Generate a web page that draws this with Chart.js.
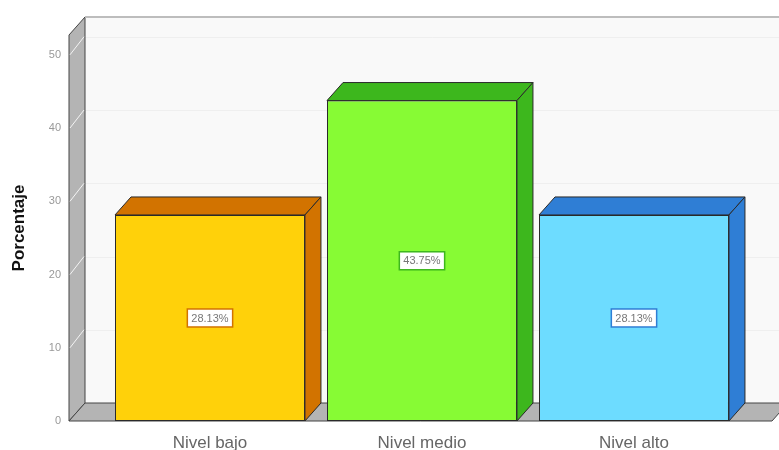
<!DOCTYPE html>
<html>
<head>
<meta charset="utf-8">
<script src="https://cdn.jsdelivr.net/npm/chart.js@4"></script>
<style>
  html, body { margin: 0; padding: 0; background: #fff; }
  #wrap { width: 779px; height: 450px; position: relative; }
</style>
</head>
<body>
<div id="wrap"><canvas id="nivelChart"></canvas></div>
<script>
// Chart data
const categories = ['Nivel bajo', 'Nivel medio', 'Nivel alto'];
const percentages = [28.13, 43.75, 28.13];
const valueLabels = ['28.13%', '43.75%', '28.13%'];
const yTicks = [0, 10, 20, 30, 40, 50];

// Colours: front face / top and side faces
const frontColors = ['#FFD10A', '#87FB34', '#6DDCFF'];
const sideColors = ['#D27300', '#3DB71D', '#2F7ED5'];

// 3D depth offset
const DX = 16, DY = -18;

function poly(ctx, pts, fill, stroke, lw) {
    ctx.beginPath();
    ctx.moveTo(pts[0][0], pts[0][1]);
    for (let i = 1; i < pts.length; i++) ctx.lineTo(pts[i][0], pts[i][1]);
    ctx.closePath();
    if (fill) { ctx.fillStyle = fill; ctx.fill(); }
    if (stroke) { ctx.strokeStyle = stroke; ctx.lineWidth = lw || 1; ctx.stroke(); }
}

// Walls, floor and gridlines behind the bars
const box3d = {
    id: 'box3d',
    beforeDatasetsDraw(chart) {
        const ctx = chart.ctx;
        const a = chart.chartArea;
        const ys = chart.scales.y;
        const L = a.left, R = a.right, T = a.top, B = a.bottom;
        ctx.save();
        // back wall
        poly(ctx, [[L + DX, T + DY], [R + DX, T + DY], [R + DX, B + DY], [L + DX, B + DY]], '#f9f9f9');
        // gridlines on back wall
        yTicks.forEach(v => {
            if (v === 0) return;
            const y = Math.round(ys.getPixelForValue(v) + DY) + 0.5;
            ctx.beginPath();
            ctx.moveTo(L + DX, y);
            ctx.lineTo(R + DX, y);
            ctx.strokeStyle = '#efefef';
            ctx.lineWidth = 1;
            ctx.stroke();
        });
        // left wall
        poly(ctx, [[L, T], [L + DX, T + DY], [L + DX, B + DY], [L, B]], '#b4b4b4', '#444', 1);
        yTicks.forEach(v => {
            if (v === 0) return;
            const y = ys.getPixelForValue(v);
            ctx.beginPath();
            ctx.moveTo(L + 1, y);
            ctx.lineTo(L + DX - 1, y + DY);
            ctx.strokeStyle = '#f4f4f4';
            ctx.lineWidth = 1;
            ctx.stroke();
        });
        // floor
        poly(ctx, [[L, B], [L + DX, B + DY], [R + DX, B + DY], [R, B]], '#b4b4b4', '#444', 1);
        // top frame line
        ctx.beginPath();
        ctx.moveTo(L + DX, T + DY);
        ctx.lineTo(R + DX + 20, T + DY);
        ctx.strokeStyle = '#bdbdbd';
        ctx.lineWidth = 2;
        ctx.stroke();
        ctx.restore();
    },
    afterDatasetsDraw(chart) {
        const ctx = chart.ctx;
        const meta = chart.getDatasetMeta(0);
        ctx.save();
        meta.data.forEach((bar, i) => {
            const p = bar.getProps(['x', 'y', 'base', 'width'], true);
            const l = p.x - p.width / 2, r = p.x + p.width / 2;
            // top face
            poly(ctx, [[l, p.y], [l + DX, p.y + DY], [r + DX, p.y + DY], [r, p.y]], sideColors[i], '#2a2a2a', 1);
            // side face
            poly(ctx, [[r, p.y], [r + DX, p.y + DY], [r + DX, p.base + DY], [r, p.base]], sideColors[i], '#2a2a2a', 1);
            // value label box
            const cy = (p.y + p.base) / 2;
            ctx.font = '11px "Liberation Sans", Arial, sans-serif';
            const tw = ctx.measureText(valueLabels[i]).width;
            const bw = tw + 8, bh = 18;
            ctx.fillStyle = '#ffffff';
            ctx.fillRect(p.x - bw / 2, cy - bh / 2, bw, bh);
            ctx.strokeStyle = sideColors[i];
            ctx.lineWidth = 1.5;
            ctx.strokeRect(p.x - bw / 2, cy - bh / 2, bw, bh);
            ctx.fillStyle = '#777';
            ctx.textAlign = 'center';
            ctx.textBaseline = 'middle';
            ctx.fillText(valueLabels[i], p.x, cy + 0.5);
        });
        ctx.restore();
    }
};

const ctx = document.getElementById('nivelChart').getContext('2d');
new Chart(ctx, {
    type: 'bar',
    data: {
        datasets: [{
            data: percentages.map((v, i) => ({ x: i, y: v })),
            backgroundColor: frontColors,
            borderColor: '#2a2a2a',
            borderWidth: 1,
            borderSkipped: false,
            categoryPercentage: 1,
            barPercentage: 0.896
        }]
    },
    options: {
        responsive: true,
        maintainAspectRatio: false,
        animation: false,
        layout: { padding: { top: 35, right: 7, bottom: 0, left: 0 } },
        plugins: {
            legend: { display: false },
            tooltip: { enabled: false }
        },
        scales: {
            x: {
                type: 'linear',
                offset: false,
                min: -0.665,
                max: 2.651,
                grid: { display: false },
                border: { display: false },
                afterBuildTicks: s => { s.ticks = categories.map((c, i) => ({ value: i })); },
                afterFit: s => { s.height = 29; },
                ticks: {
                    autoSkip: false,
                    maxRotation: 0,
                    padding: 4,
                    color: '#666',
                    font: { family: '"Liberation Sans", Arial, sans-serif', size: 17 },
                    callback: v => categories[v]
                }
            },
            y: {
                min: 0,
                max: 52.7,
                grid: { display: false },
                border: { display: false },
                afterFit: s => { s.width = 69; },
                afterBuildTicks: s => { s.ticks = yTicks.map(v => ({ value: v })); },
                ticks: {
                    padding: 0,
                    color: '#999',
                    font: { family: '"Liberation Sans", Arial, sans-serif', size: 11 }
                },
                title: {
                    display: true,
                    text: 'Porcentaje',
                    color: '#111',
                    padding: { top: 9, bottom: 0 },
                    font: { family: '"Liberation Sans", Arial, sans-serif', size: 17, weight: 'bold' }
                }
            }
        }
    },
    plugins: [box3d]
});
</script>
</body>
</html>
